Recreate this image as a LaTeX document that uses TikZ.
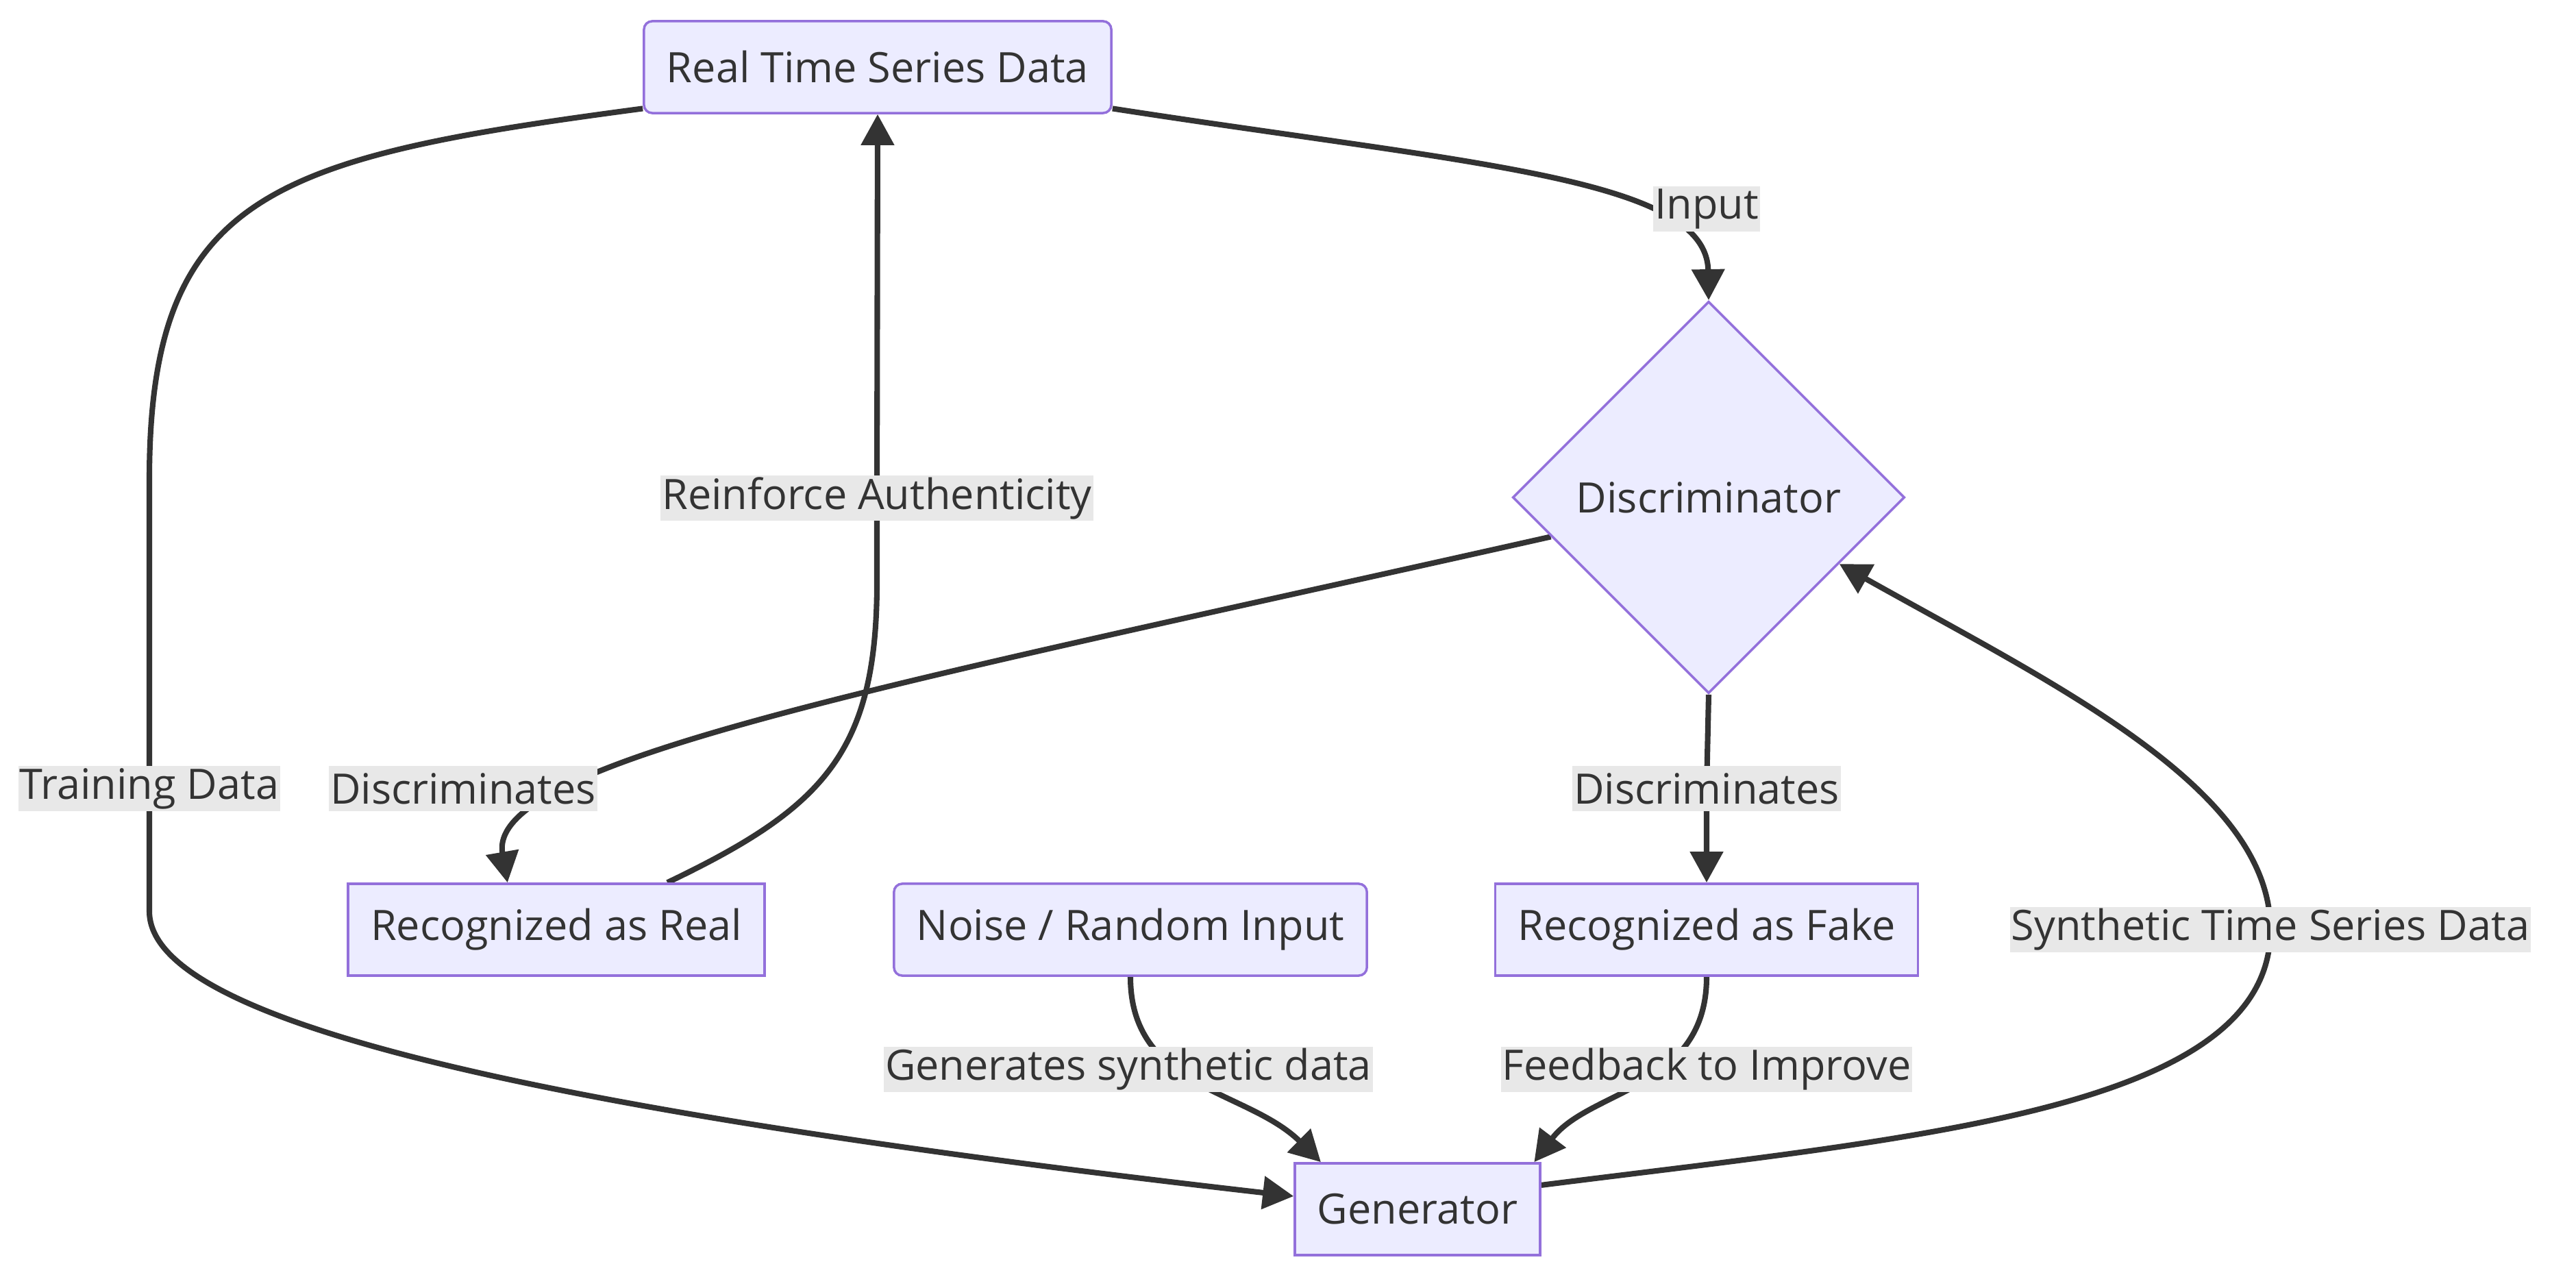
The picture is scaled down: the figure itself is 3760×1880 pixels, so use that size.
\documentclass[tikz,border=0pt]{standalone}
\usepackage{fontspec}
\setmainfont{Open Sans}
\usepackage{tikz}
\usetikzlibrary{arrows.meta,shapes.geometric,backgrounds}
\definecolor{nodefill}{HTML}{ECECFF}
\definecolor{nodeline}{HTML}{9370DB}
\definecolor{ink}{HTML}{333333}
\definecolor{lblgray}{HTML}{E8E8E8}
\tikzstyle{block}=[rectangle, draw=nodeline, fill=nodefill, line width=1pt, inner xsep=0.33cm, inner ysep=0pt, minimum height=1.34cm, text=ink]
\tikzstyle{roundblock}=[block, rounded corners=0.12cm]
\tikzstyle{decision}=[diamond, draw=nodeline, fill=nodefill, line width=1pt, inner sep=0pt, minimum size=5.72cm, text=ink]
\tikzstyle{lbl}=[fill=lblgray, inner xsep=0.02cm, inner ysep=0pt, minimum height=0.65cm, text=ink]
\tikzstyle{flow}=[draw=ink, line width=2.3pt, -{Triangle[length=0.45cm,width=0.47cm]}]

\begin{document}
\begin{tikzpicture}[x=0.01cm, y=-0.01cm, font=\fontsize{17.4}{21}\selectfont]
			\useasboundingbox (0,0) rectangle (3760,1880);
			\node[roundblock] (real) at (1281,98) {Real Time Series Data};
			\node[decision] (disc) at (2494,726) {Discriminator};
			\node[block] (recreal) at (812,1357) {Recognized as Real};
			\node[roundblock] (noise) at (1650,1357) {Noise / Random Input};
			\node[block] (recfake) at (2491,1357) {Recognized as Fake};
			\node[block] (gen) at (2069,1765) {Generator};
			% edge labels
			\node[lbl] (linput) at (2491,305) {Input};
			\node[lbl] (ltrain) at (218,1151) {Training Data};
			\node[lbl] (lreinf) at (1280,727) {Reinforce Authenticity};
			\node[lbl] (ldisca) at (676,1151) {Discriminates};
			\node[lbl] (ldiscb) at (2491,1151) {Discriminates};
			\node[lbl] (lsynth) at (3314,1357) {Synthetic Time Series Data};
			\node[lbl] (lgen) at (1647,1561) {Generates synthetic data};
			\node[lbl] (lfeed) at (2491,1561) {Feedback to Improve};
			\begin{scope}[on background layer]
				\path[flow] (real.-10) .. controls (2150,240) and (2491,260) .. (disc.north);
				\path[flow] (real.190) .. controls (400,230) and (218,280) .. (218,700) -- (ltrain.center) -- (218,1330) .. controls (218,1480) and (700,1610) .. (gen.174);
				\path[flow] (disc.194) .. controls (1300,1000) and (710,1110) .. (recreal.136);
				\path[flow] (disc.south) -- (ldiscb.center) -- (recfake.north);
				\path[flow] (recreal.23) .. controls (1200,1180) and (1280,1100) .. (1280,850) -- (lreinf.center) -- (real.south);
				\path[flow] (noise.south) .. controls (1650,1590) and (1820,1590) .. (gen.154);
				\path[flow] (recfake.south) .. controls (2491,1590) and (2320,1590) .. (gen.22);
				\path[flow] (gen.11) .. controls (2800,1660) and (3314,1620) .. (lsynth.center) .. controls (3314,1150) and (3000,1000) .. (disc.-27);
			\end{scope}
		\end{tikzpicture}
\end{document}
